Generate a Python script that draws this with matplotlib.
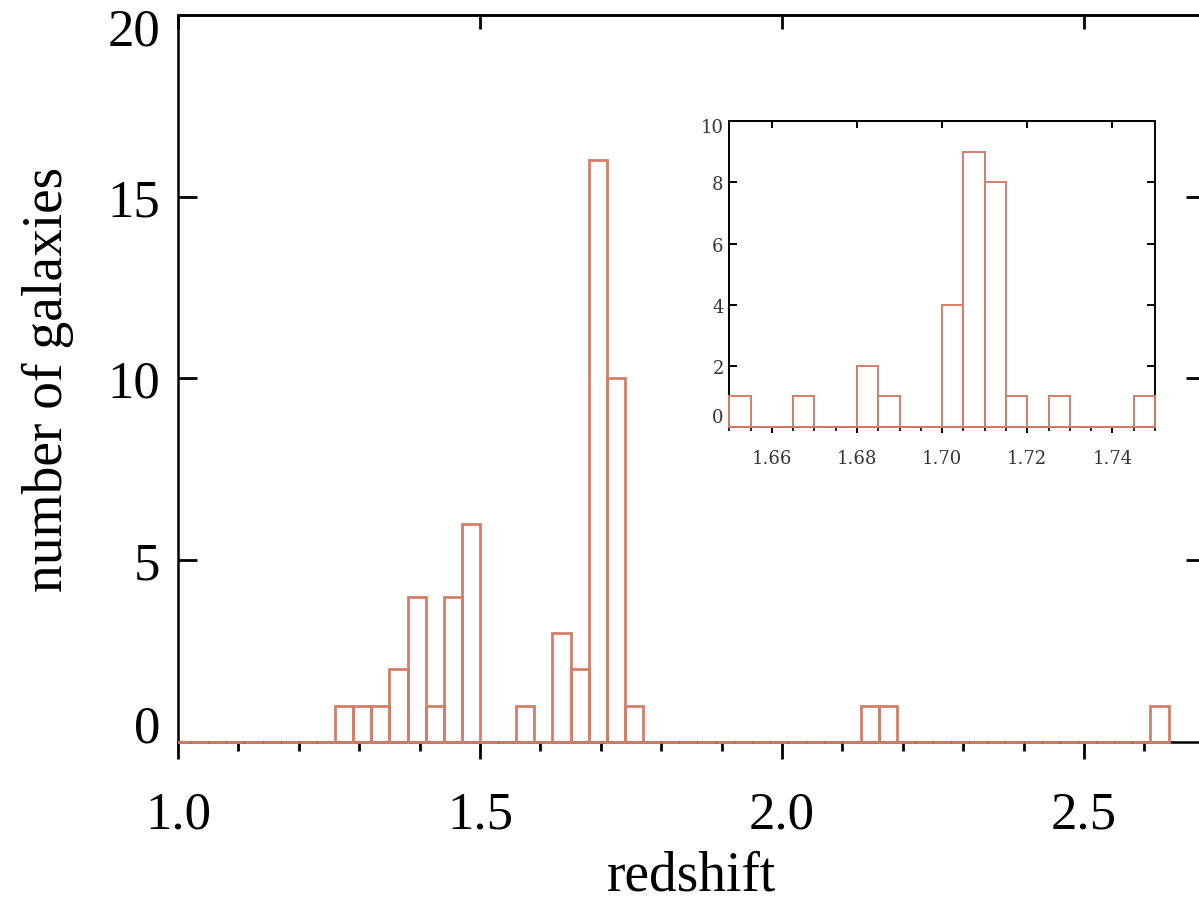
import matplotlib
matplotlib.use('Agg')
import matplotlib.pyplot as plt
import numpy as np
from matplotlib.ticker import MultipleLocator, FormatStrFormatter
from matplotlib.transforms import Bbox, TransformedBbox

# main histogram: bins of 0.03 in redshift, first bin starts at z = 0.99
main_start = 0.99
main_width = 0.03
main_counts = [0, 0, 0, 0, 0, 0, 0, 0, 0,
               1, 1, 1, 2, 4, 1, 4, 6, 0, 0, 1, 0, 3, 2, 16, 10, 1,
               0, 0, 0, 0, 0, 0, 0, 0, 0, 0, 0, 0,
               1, 1,
               0, 0, 0, 0, 0, 0, 0, 0, 0, 0, 0, 0, 0, 0,
               1]

# inset: zoom on the peak, bins of 0.005
inset_start = 1.65
inset_width = 0.005
inset_counts = [1, 0, 0, 1, 0, 0, 2, 1, 0, 0, 4, 9, 8, 1, 0, 1, 0, 0, 0, 1]

main_xticks = [1.0, 1.5, 2.0, 2.5]
main_yticks = [5, 10, 15]
inset_xticks = [1.66, 1.68, 1.70, 1.72, 1.74]
inset_yticks = [2, 4, 6, 8]

bar_color = '#d47d68'
inset_text = '#333340'

plt.rcParams['font.family'] = 'Liberation Serif'

fig = plt.figure(figsize=(11.99, 9.03), dpi=100)

# === main panel ===
ax = fig.add_axes([0.14846, 0.17719, 0.85638, 0.80543])
left_edges = main_start + main_width * np.arange(len(main_counts))
bars = ax.bar(left_edges, main_counts, width=main_width, align='edge',
              fill=False, edgecolor=bar_color, linewidth=2, zorder=3)
# let the baseline show over the bottom spine, but not left of the y axis
clip = TransformedBbox(Bbox([[0, -0.01], [1, 1.01]]), ax.transAxes)
for b in bars:
    b.set_clip_path(None)
    b.set_clip_box(clip)

ax.set_xlim(1.0, 2.70)
ax.set_ylim(0, 20)
ax.set_xticks(main_xticks)
ax.xaxis.set_major_formatter(FormatStrFormatter('%.1f'))
ax.xaxis.set_minor_locator(MultipleLocator(0.1))
ax.set_yticks(main_yticks)

ax.tick_params(axis='x', which='major', direction='out', length=12, width=2,
               labelsize=38, pad=23, top=False)
ax.tick_params(axis='x', which='minor', direction='out', length=6.5, width=2,
               top=False)
ax.tick_params(axis='y', direction='in', length=14, width=2, labelsize=38,
               pad=13, left=True, right=True)
for s in ax.spines.values():
    s.set_linewidth(1.8)

# end labels sit inside the axis range
ax.text(-0.0175, 0.52, '0', transform=ax.get_yaxis_transform(),
        ha='right', va='center_baseline', fontsize=38)
ax.text(-0.0175, 19.68, '20', transform=ax.get_yaxis_transform(),
        ha='right', va='center_baseline', fontsize=38)

top = ax.secondary_xaxis('top')
top.set_xticks(main_xticks)
top.tick_params(direction='in', length=10, width=2, labeltop=False)
top.spines['top'].set_linewidth(1.8)

ax.set_xlabel('redshift', fontsize=40)
ax.xaxis.set_label_coords(0.5, -0.148)
ax.set_ylabel('number of galaxies', fontsize=40)
ax.yaxis.set_label_coords(-0.101, 0.5)

# === inset ===
ins = fig.add_axes([0.60826, 0.52602, 0.35505, 0.33854])
ins_edges = inset_start + inset_width * np.arange(len(inset_counts))
ins.bar(ins_edges, inset_counts, width=inset_width, align='edge', fill=False,
        edgecolor=bar_color, linewidth=1.4, clip_on=False, zorder=3)
ins.set_xlim(1.65, 1.75)
ins.set_ylim(0, 10)
ins.set_xticks(inset_xticks)
ins.xaxis.set_major_formatter(FormatStrFormatter('%.2f'))
ins.xaxis.set_minor_locator(MultipleLocator(0.005))
ins.set_yticks(inset_yticks)

ins.tick_params(axis='x', which='major', direction='out', length=4.5, width=1.4,
                labelsize=13, labelcolor=inset_text, pad=11, top=False,
                labelfontfamily='DejaVu Serif')
ins.tick_params(axis='x', which='minor', direction='out', length=3, width=1.2,
                top=False)
ins.tick_params(axis='y', direction='in', length=6, width=1.4, labelsize=13,
                labelcolor=inset_text, pad=4, left=True, right=True,
                labelfontfamily='DejaVu Serif')
for s in ins.spines.values():
    s.set_linewidth(1.4)

ins.text(-0.013, 0.4, '0', transform=ins.get_yaxis_transform(), ha='right',
         va='center_baseline', fontsize=13, color=inset_text, family='DejaVu Serif')
ins.text(-0.013, 9.87, '10', transform=ins.get_yaxis_transform(), ha='right',
         va='center_baseline', fontsize=13, color=inset_text, family='DejaVu Serif')

ins_top = ins.secondary_xaxis('top')
ins_top.set_xticks(inset_xticks)
ins_top.tick_params(direction='in', length=5, width=1.4, labeltop=False)
ins_top.spines['top'].set_linewidth(1.4)

fig.savefig('out.png', dpi=100)
